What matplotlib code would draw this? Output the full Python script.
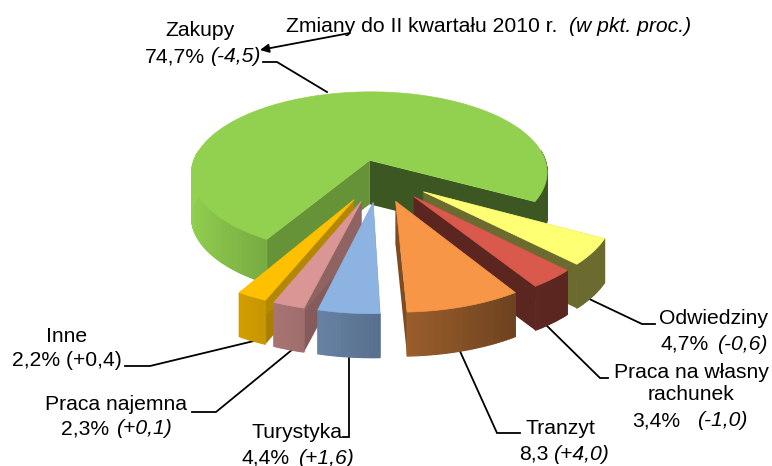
import matplotlib
matplotlib.use('Agg')
import matplotlib.pyplot as plt
import numpy as np
from matplotlib.patches import Polygon

plt.rcParams['font.family'] = ['Liberation Sans', 'DejaVu Sans']
plt.rcParams['font.size'] = 12

names = ['Zakupy', 'Odwiedziny', 'Praca na własny', 'Tranzyt', 'Turystyka', 'Praca najemna', 'Inne']
shares = [74.7, 4.7, 3.4, 8.3, 4.4, 2.3, 2.2]
share_text = ['74,7%', '4,7%', '3,4%', '8,3', '4,4%', '2,3%', '2,2%']
change_text = ['(-4,5)', '(-0,6)', '(-1,0)', '(+4,0)', '(+1,6)', '(+0,1)', '(+0,4)']
colors = ['#92D050', '#FFFF73', '#D9594C', '#F79646', '#8DB3E2', '#D99694', '#FFC000']
explode = [0.20, 0.30, 0.30, 0.30, 0.30, 0.30, 0.30]

# projection of the pie plane
cx, cy = 379, 176
rx, ry = 181, 84
persp = 0.16
depth = 44
start = 120  # degrees, clockwise on screen


def project(u, v, z=0.0):
    s = 1 / (1 - persp * v)
    return cx + rx * u * s, cy + ry * v * s + depth * z


def shade(color, m):
    rgb = np.array(matplotlib.colors.to_rgb(color))
    return tuple(np.clip(rgb * m, 0, 1))


def wall_mult(th):
    return max(0.42, 0.64 - 0.37 * np.cos(np.radians(th)))


def draw_slice(ax, a0, a1, off, color, zo):
    mid = np.radians((a0 + a1) / 2)
    ou, ov = off * np.cos(mid), off * np.sin(mid)
    ths = np.linspace(a0, a1, max(int(a1 - a0) + 2, 8))
    us = ou + np.cos(np.radians(ths))
    vs = ov + np.sin(np.radians(ths))

    # cut walls
    for k, th in ((0, a0), (-1, a1)):
        pts = [project(ou, ov), project(us[k], vs[k]), project(us[k], vs[k], 1), project(ou, ov, 1)]
        m = max(0.42, wall_mult(th) - 0.12)
        ax.add_patch(Polygon(pts, closed=True, fc=shade(color, m), ec='none', zorder=zo))

    # outer wall, only the part that faces the viewer
    for i in range(len(ths) - 1):
        if np.sin(np.radians(ths[i])) < -0.12 and np.sin(np.radians(ths[i + 1])) < -0.12:
            continue
        pts = [project(us[i], vs[i]), project(us[i + 1], vs[i + 1]),
               project(us[i + 1], vs[i + 1], 1), project(us[i], vs[i], 1)]
        c = shade(color, wall_mult(ths[i]))
        ax.add_patch(Polygon(pts, closed=True, fc=c, ec=c, lw=0.9, zorder=zo + 0.1))

    # top face
    top = [project(ou, ov)] + [project(u, v) for u, v in zip(us, vs)]
    ax.add_patch(Polygon(top, closed=True, fc=color, ec=color, lw=0.5, zorder=zo + 0.2))


fig = plt.figure(figsize=(7.72, 4.66), dpi=100)
ax = fig.add_axes([0, 0, 1, 1])
ax.set_xlim(0, 772)
ax.set_ylim(466, 0)
ax.axis('off')

angles = np.array(shares) * 3.6
a = start
spans = []
for s in angles:
    spans.append((a, a + s))
    a += s

# draw order: big slice, then small ones from both sides towards the front
order = [0, 1, 2, 3, 6, 5, 4]
for z, i in enumerate(order):
    draw_slice(ax, spans[i][0], spans[i][1], explode[i], colors[i], 2 + z)

fs = 15.2
line_kw = dict(color='k', lw=1.3, zorder=1, solid_joinstyle='miter')
leaders = [
    ([263, 277, 327], [62, 62, 92]),
    ([583, 642, 655], [296, 324, 324]),
    ([543, 600, 608], [322, 378, 378]),
    ([459, 497, 520], [349, 433, 433]),
    ([349, 349, 343], [356, 437, 437]),
    ([293, 216, 192], [349, 412, 412]),
    ([258, 150, 125], [340, 366, 366]),
]
for xs, ys in leaders:
    ax.plot(xs, ys, **line_kw)

ax.annotate('', xy=(260, 50), xytext=(350, 33),
            arrowprops=dict(arrowstyle='-|>', color='k', lw=1.3, mutation_scale=13, shrinkA=0, shrinkB=0),
            zorder=20)

ax.text(286, 27, 'Zmiany do II kwartału 2010 r.', fontsize=fs, va='center', ha='left')
ax.text(569, 27, '(w pkt. proc.)', fontsize=fs, style='italic', va='center', ha='left')

# name line, then share and change line
ax.text(200, 31, names[0], fontsize=fs, ha='center', va='center')
ax.text(205, 57, share_text[0], fontsize=fs, ha='right', va='center')
ax.text(210, 57, change_text[0], fontsize=fs, style='italic', ha='left', va='center')

ax.text(714, 319, names[1], fontsize=fs, ha='center', va='center')
ax.text(709, 344, share_text[1], fontsize=fs, ha='right', va='center')
ax.text(717, 344, change_text[1], fontsize=fs, style='italic', ha='left', va='center')

ax.text(691, 372, names[2], fontsize=fs, ha='center', va='center')
ax.text(691, 395, 'rachunek', fontsize=fs, ha='center', va='center')
ax.text(680, 421, share_text[2], fontsize=fs, ha='right', va='center')
ax.text(697, 421, change_text[2], fontsize=fs, style='italic', ha='left', va='center')

ax.text(560, 429, names[3], fontsize=fs, ha='center', va='center')
ax.text(548, 454, share_text[3], fontsize=fs, ha='right', va='center')
ax.text(553, 454, change_text[3], fontsize=fs, style='italic', ha='left', va='center')

ax.text(297, 432, names[4], fontsize=fs, ha='center', va='center')
ax.text(290, 458, share_text[4], fontsize=fs, ha='right', va='center')
ax.text(298, 458, change_text[4], fontsize=fs, style='italic', ha='left', va='center')

ax.text(116, 404, names[5], fontsize=fs, ha='center', va='center')
ax.text(109, 429, share_text[5], fontsize=fs, ha='right', va='center')
ax.text(116, 429, change_text[5], fontsize=fs, style='italic', ha='left', va='center')

ax.text(67, 336, names[6], fontsize=fs, ha='center', va='center')
ax.text(67, 361, share_text[6] + ' ' + change_text[6], fontsize=fs, ha='center', va='center')

fig.savefig('out.png', dpi=100)
